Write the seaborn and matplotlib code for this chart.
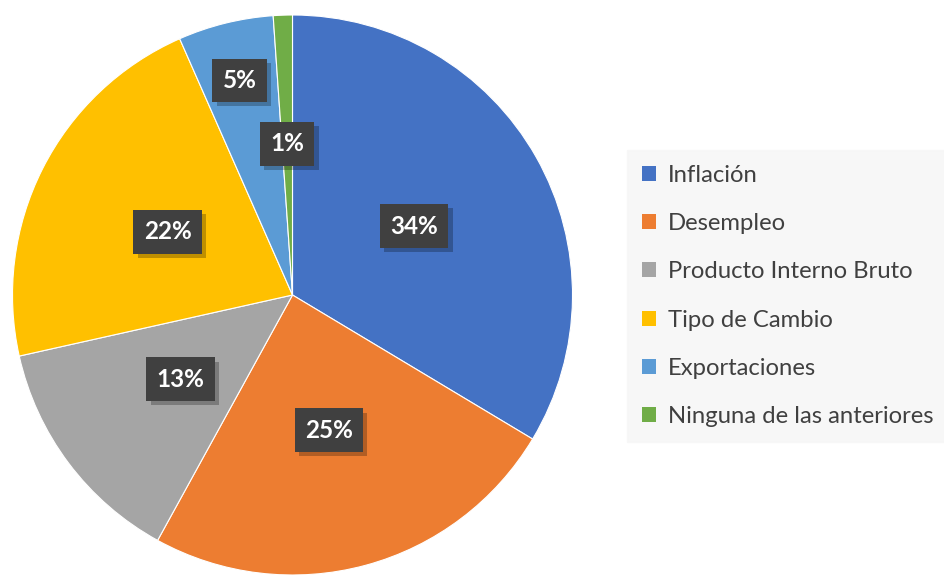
import matplotlib
matplotlib.use('Agg')
import seaborn as sns
import matplotlib.pyplot as plt
import matplotlib.patheffects as pe
from matplotlib.patches import Patch
import numpy as np

categorias = ['Inflación', 'Desempleo', 'Producto Interno Bruto',
              'Tipo de Cambio', 'Exportaciones', 'Ninguna de las anteriores']
porcentajes = [33.6, 24.4, 13.5, 21.9, 5.5, 1.1]
etiquetas = ['34%', '25%', '13%', '22%', '5%', '1%']
colores = ['#4472C4', '#ED7D31', '#A5A5A5', '#FFC000', '#5B9BD5', '#70AD47']
# distance of each label from the centre (fraction of radius)
dist_etiqueta = [0.50, 0.50, 0.50, 0.50, 0.79, 0.54]

sns.set_theme(style='white')
plt.rcParams['font.family'] = ['Lato', 'DejaVu Sans']

fig = plt.figure(figsize=(9.45, 5.75), dpi=100)
ax = fig.add_axes([12.5 / 945, 0, 560 / 945, 560 / 575])

wedges, _ = ax.pie(porcentajes, colors=colores, startangle=90, counterclock=False,
                   radius=1, wedgeprops=dict(edgecolor='white', linewidth=0.8))
ax.set_xlim(-1, 1)
ax.set_ylim(-1, 1)
ax.set_aspect('equal')
ax.axis('off')

for w, txt, d in zip(wedges, etiquetas, dist_etiqueta):
    ang = np.deg2rad((w.theta1 + w.theta2) / 2)
    t = ax.text(d * np.cos(ang), d * np.sin(ang), txt, ha='center', va='center',
                color='white', fontsize=17.5, fontweight='bold',
                bbox=dict(boxstyle='square,pad=0.42', facecolor='#404040',
                          edgecolor='none', linewidth=0))
    t.get_bbox_patch().set_path_effects([
        pe.SimplePatchShadow(offset=(3, -3), shadow_rgbFace='black', alpha=0.25),
        pe.Normal()])

handles = [Patch(facecolor=c, edgecolor='none') for c in colores]
leg = fig.legend(handles, categorias, loc='upper left',
                 bbox_to_anchor=(627 / 945, 1 - 150 / 575),
                 fontsize=17.2, frameon=True, fancybox=False,
                 facecolor='#F6F6F6', edgecolor='#F6F6F6',
                 handlelength=0.6, handleheight=0.6, handletextpad=0.5,
                 labelspacing=1.14, borderpad=0.62, borderaxespad=0)
for t in leg.get_texts():
    t.set_color('#404040')

plt.savefig('out.png', dpi=100)
